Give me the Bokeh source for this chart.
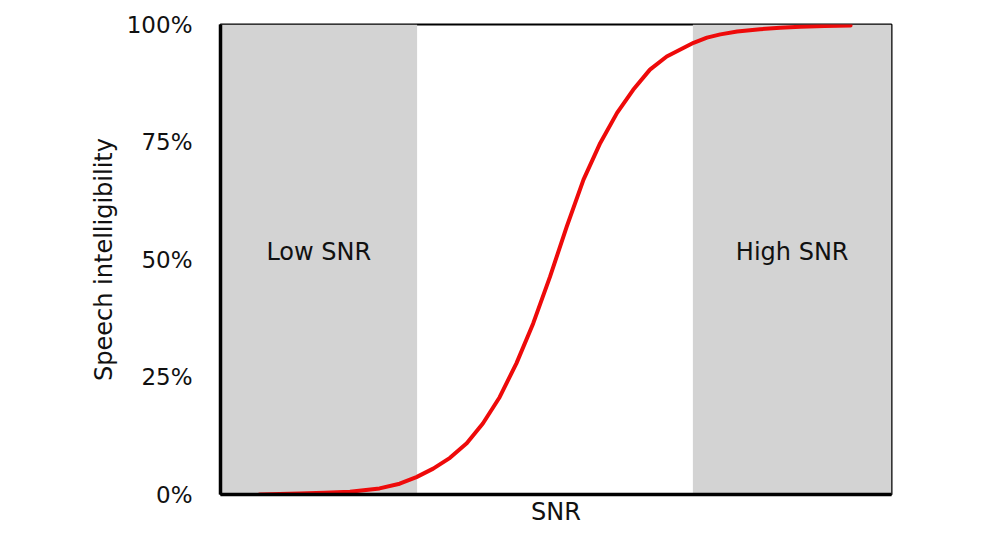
from bokeh.plotting import figure
from bokeh.models import Range1d, FixedTicker, PrintfTickFormatter, BoxAnnotation, Label
from bokeh.embed import file_html
from bokeh.resources import INLINE

# Data (SNR in arbitrary units 0..100, intelligibility in %)
snr = [5.8, 11.8, 15.5, 19.3, 23.7, 26.7, 29.2, 31.7, 34.2, 36.7, 39.1, 41.6, 44.1,
       46.6, 49.1, 51.6, 54.1, 56.6, 59.1, 61.5, 64.0, 66.5, 70.5, 72.5, 74.5, 77.0,
       80.4, 83.4, 86.4, 90.0, 93.9]
intelligibility = [0.0, 0.2, 0.35, 0.6, 1.3, 2.3, 3.7, 5.5, 7.8, 10.9, 15.1, 20.7, 27.9,
                   36.4, 46.3, 57.0, 67.0, 74.8, 81.2, 86.1, 90.4, 93.2, 96.1, 97.2, 97.9, 98.5,
                   99.0, 99.3, 99.5, 99.7, 99.8]
y_ticks = [0, 25, 50, 75, 100]
low_band = [0, 29.3]
high_band = [70.4, 100]
low_label = "Low SNR"
high_label = "High SNR"

FONT = "DejaVu Sans"
TXT = "#111111"

p = figure(frame_width=671, frame_height=470, output_backend="svg", toolbar_location=None,
           x_range=Range1d(0, 100), y_range=Range1d(0, 100),
           min_border_left=220, min_border_top=24, min_border_right=40, min_border_bottom=20)
p.background_fill_color = "white"
p.border_fill_color = "white"
p.outline_line_color = "black"
p.outline_line_width = 2
p.xgrid.visible = False
p.ygrid.visible = False

p.add_layout(BoxAnnotation(left=low_band[0], right=low_band[1], fill_color="#d3d3d3",
                           fill_alpha=1.0, line_color=None, level="underlay"))
p.add_layout(BoxAnnotation(left=high_band[0], right=high_band[1], fill_color="#d3d3d3",
                           fill_alpha=1.0, line_color=None, level="underlay"))

p.line(snr, intelligibility, line_color="#ee0a0a", line_width=4,
       line_join="round", line_cap="round")

p.add_layout(Label(x=(low_band[0] + low_band[1]) / 2, y=51.5, text=low_label,
                   text_align="center", text_baseline="middle", text_font=FONT,
                   text_font_size="24px", text_color=TXT))
p.add_layout(Label(x=(high_band[0] + high_band[1]) / 2, y=51.5, text=high_label,
                   text_align="center", text_baseline="middle", text_font=FONT,
                   text_font_size="24px", text_color=TXT))

# y axis
p.yaxis.ticker = FixedTicker(ticks=y_ticks)
p.yaxis.formatter = PrintfTickFormatter(format="%d%%")
p.yaxis.major_tick_line_color = None
p.yaxis.minor_tick_line_color = None
p.yaxis.major_label_standoff = 22
p.yaxis.major_label_text_font = FONT
p.yaxis.major_label_text_font_size = "23px"
p.yaxis.major_label_text_color = TXT
p.yaxis.axis_line_width = 3.5
p.yaxis.axis_line_color = "black"
p.yaxis.axis_label = "Speech intelligibility"
p.yaxis.axis_label_text_font = FONT
p.yaxis.axis_label_text_font_size = "24px"
p.yaxis.axis_label_text_font_style = "normal"
p.yaxis.axis_label_text_color = TXT
p.yaxis.axis_label_standoff = 6

# x axis
p.xaxis.ticker = FixedTicker(ticks=[])
p.xaxis.major_tick_line_color = None
p.xaxis.minor_tick_line_color = None
p.xaxis.major_label_text_font_size = "0px"
p.xaxis.axis_line_width = 3.5
p.xaxis.axis_line_color = "black"
p.xaxis.axis_label = "SNR"
p.xaxis.axis_label_text_font = FONT
p.xaxis.axis_label_text_font_size = "24px"
p.xaxis.axis_label_text_font_style = "normal"
p.xaxis.axis_label_text_color = TXT
p.xaxis.axis_label_standoff = 3

open("out.html", "w").write(file_html(p, INLINE))
